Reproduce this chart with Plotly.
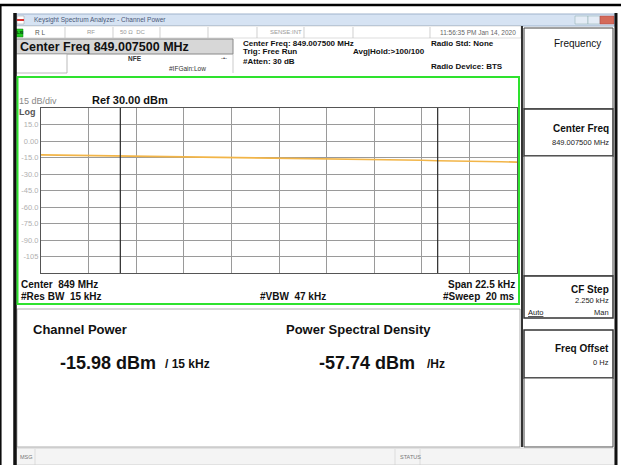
import plotly.graph_objects as go

# ---------------- data ----------------
freq_offset_khz = [-11.25, -10.5, -9.75, -9.0, -8.25, -7.5, -6.75, -6.0, -5.25, -4.5, -3.75,
                   -3.0, -2.25, -1.5, -0.75, 0.0, 0.75, 1.5, 2.25, 3.0, 3.75, 4.5, 5.25,
                   6.0, 6.75, 7.5, 8.25, 9.0, 9.75, 10.5, 11.25]
power_dbm = [-12.6, -12.8, -13.1, -13.0, -13.3, -13.5, -13.4, -13.8, -13.9, -14.2, -14.3,
             -14.4, -14.8, -14.9, -15.3, -15.5, -15.6, -16.1, -16.3, -16.4, -16.8, -16.9, -17.1,
             -17.4, -17.5, -17.9, -18.0, -18.4, -18.6, -18.8, -19.2]
y_tick_vals = [15, 0, -15, -30, -45, -60, -75, -90, -105]
y_tick_text = ["15.0", "0.00", "-15.0", "-30.0", "-45.0", "-60.0", "-75.0", "-90.0", "-105"]
channel_edges_khz = [-7.5, 7.5]
span_khz = 22.5
div_khz = 2.25
ref_dbm = 30
bottom_dbm = -120

W, H = 621, 465
FONT = "Liberation Sans, Arial, sans-serif"


def X(px):
    return px / W


def Y(py):
    return 1 - py / H


shapes = []
annotations = []


def rect(x0, y0, x1, y1, fill=None, line="#444", lw=1, layer="below"):
    shapes.append(dict(type="rect", xref="paper", yref="paper",
                       x0=X(x0), x1=X(x1), y0=Y(y1), y1=Y(y0),
                       fillcolor=fill if fill else "rgba(0,0,0,0)",
                       line=dict(color=line, width=lw) if lw else dict(width=0),
                       layer=layer))


def hline(x0, x1, y, color="#444", lw=1):
    shapes.append(dict(type="line", xref="paper", yref="paper",
                       x0=X(x0), x1=X(x1), y0=Y(y), y1=Y(y),
                       line=dict(color=color, width=lw), layer="above"))


def vline(x, y0, y1, color="#444", lw=1):
    shapes.append(dict(type="line", xref="paper", yref="paper",
                       x0=X(x), x1=X(x), y0=Y(y0), y1=Y(y1),
                       line=dict(color=color, width=lw), layer="above"))


def text(x, y, s, size=9, color="#000", anchor="left", bold=False):
    if bold:
        s = "<b>" + s + "</b>"
    annotations.append(dict(xref="paper", yref="paper", x=X(x), y=Y(y), text=s,
                            showarrow=False, xanchor=anchor, yanchor="middle",
                            font=dict(family=FONT, size=size, color=color)))


# outer frame
hline(0, W, 5, "#000", 2.5)
vline(0.8, 5, H, "#000", 1.5)
vline(15, 13, H, "#111", 3.5)
vline(616, 13, H, "#111", 3)

# title bar
rect(16, 14, 615, 26, fill="#d6e3f3", line="#9fb3cc", lw=1)
rect(17, 16, 24, 24, fill="#ffffff", line="#999", lw=0.5)
rect(17, 19, 24, 21, fill="#d93030", lw=0)
text(32, 20.5, "Keysight Spectrum Analyzer - Channel Power", 6.5, "#4a5878")
rect(575, 16, 588, 24, fill="#e4ecf6", line="#8aa", lw=0.5)
rect(588, 16, 600, 24, fill="#e4ecf6", line="#8aa", lw=0.5)
rect(600, 16, 614, 24, fill="#d46a5a", line="#a44", lw=0.5)

# status row
rect(16, 26, 521, 38, fill="#ffffff", line="#bbb", lw=0.5)
rect(16, 29, 23, 37, fill="#22cc22", line="#117711", lw=0.5)
text(19.5, 33, "<b>LXI</b>", 4, "#003300", "center")
text(33, 32, "R L", 6.5, "#555")
for sx in [65, 113, 160, 208, 257, 304, 353, 430]:
    vline(sx, 27, 38, "#bbb", 0.7)
text(85, 32, "RF", 6, "#999")
text(118, 32, "50 Ω  DC", 6, "#999")
text(268, 32, "SENSE:INT", 6, "#999")
text(518, 32, "11:56:35 PM Jan 14, 2020", 6.5, "#666", "right")

# center freq box
rect(16, 39, 233, 54, fill="#d7d7d7", line="#888", lw=1)
text(18, 47, "Center Freq 849.007500 MHz", 12.5, "#111", bold=True)
rect(16, 54, 67, 73, fill="#ffffff", line="#aaa", lw=0.8)
vline(233, 54, 73, "#aaa", 0.6)
text(135, 58, "NFE", 6.5, "#333", "center", bold=True)
text(224, 58, "-•-", 6, "#333", "center")
text(167, 68, "#IFGain:Low", 6.5, "#333")
text(241, 43, "Center Freq: 849.007500 MHz", 8, "#111", bold=True)
text(241, 52, "Trig: Free Run", 8, "#111", bold=True)
text(241, 61, "#Atten: 30 dB", 8, "#111", bold=True)
text(351, 52, "Avg|Hold:>100/100", 8, "#111", bold=True)
text(429, 43, "Radio Std: None", 8, "#111", bold=True)
text(429, 66, "Radio Device: BTS", 8, "#111", bold=True)

# green display frame
rect(17.5, 77, 519, 304, line="#2ee22e", lw=2, layer="above")
text(17, 101, "15 dB/div", 9, "#888")
text(17, 112, "Log", 9, "#555", bold=True)
text(90, 100, "Ref 30.00 dBm", 11, "#111", bold=True)
text(19, 284, "Center  849 MHz", 10, "#111", bold=True)
text(19, 296, "#Res BW  15 kHz", 10, "#111", bold=True)
text(258, 296, "#VBW  47 kHz", 10, "#111", bold=True)
text(517, 284, "Span 22.5 kHz", 10, "#111", "right", bold=True)
text(517, 296, "#Sweep  20 ms", 10, "#111", "right", bold=True)

# right soft-key panel
vline(522, 26, 447, "#333", 2)
rect(524, 28, 613, 109, fill="#ffffff", line="#444", lw=1)
text(577, 43, "Frequency", 10, "#111", "center")
rect(524, 109, 613, 156, fill="#ffffff", line="#333", lw=1.5)
text(611, 128, "Center Freq", 10, "#111", "right", bold=True)
text(611, 142, "849.007500 MHz", 7.5, "#222", "right")
rect(524, 156, 613, 276, fill="#ffffff", line="#444", lw=1)
rect(524, 276, 613, 318, fill="#ffffff", line="#333", lw=1.5)
text(611, 289, "CF Step", 10, "#111", "right", bold=True)
text(611, 300, "2.250 kHz", 7.5, "#222", "right")
text(526, 312, "<u>Auto</u>", 7.5, "#222")
text(611, 312, "Man", 7.5, "#222", "right")
rect(524, 330, 613, 378, fill="#ffffff", line="#333", lw=1.5)
text(611, 348, "Freq Offset", 10, "#111", "right", bold=True)
text(611, 362, "0 Hz", 7.5, "#222", "right")
rect(524, 378, 613, 447, fill="#ffffff", line="#444", lw=1)

# result panel
rect(17, 309, 520, 447, fill="#ffffff", line="#999", lw=0.8)
text(31, 329, "Channel Power", 13, "#111", bold=True)
text(284, 329, "Power Spectral Density", 13, "#111", bold=True)
text(58, 363, "-15.98 dBm", 18, "#111", bold=True)
text(163, 364, "/ 15 kHz", 12, "#111", bold=True)
text(317, 363, "-57.74 dBm", 18, "#111", bold=True)
text(425, 364, "/Hz", 12, "#111", bold=True)

# message bar
rect(16, 448, 615, 465, fill="#f4f4f4", line="#bbb", lw=0.6)
text(18, 457, "MSG", 5.5, "#777")
vline(35, 449, 465, "#ccc", 0.6)
text(398, 457, "STATUS", 5.5, "#777")
vline(395, 449, 465, "#ccc", 0.6)
vline(420, 449, 465, "#ccc", 0.6)

# channel bandwidth markers (data coordinates)
for ce in channel_edges_khz:
    shapes.append(dict(type="line", xref="x", yref="y", x0=ce, x1=ce, y0=bottom_dbm, y1=ref_dbm,
                       line=dict(color="#2a2a2a", width=1.2), layer="above"))

fig = go.Figure()
fig.add_trace(go.Scatter(x=freq_offset_khz, y=power_dbm, mode="lines",
                         line=dict(color="#f2b548", width=1.6), hoverinfo="skip",
                         showlegend=False))

fig.update_layout(
    width=W, height=H,
    margin=dict(l=0, r=0, t=0, b=0),
    paper_bgcolor="#ffffff",
    plot_bgcolor="rgba(0,0,0,0)",
    font=dict(family=FONT),
    xaxis=dict(domain=[X(41), X(517)], range=[-span_khz / 2, span_khz / 2],
               tick0=-span_khz / 2, dtick=div_khz, showticklabels=False, ticks="",
               showgrid=True, gridcolor="#9a9a9a", gridwidth=1, zeroline=False,
               showline=True, linecolor="#555", linewidth=1.2, mirror=True, fixedrange=True),
    yaxis=dict(domain=[Y(273), Y(108)], range=[bottom_dbm, ref_dbm],
               tickvals=y_tick_vals, ticktext=y_tick_text, ticks="",
               tickfont=dict(size=7.5, color="#b0b0b0", family=FONT),
               showgrid=True, gridcolor="#9a9a9a", gridwidth=1, zeroline=False,
               showline=True, linecolor="#555", linewidth=1.2, mirror=True,
               automargin=False, fixedrange=True),
    shapes=shapes,
    annotations=annotations,
)

fig.write_html("out.html", config=dict(displayModeBar=False),
               post_script="document.body.style.margin='0';document.body.style.overflow='hidden';")
